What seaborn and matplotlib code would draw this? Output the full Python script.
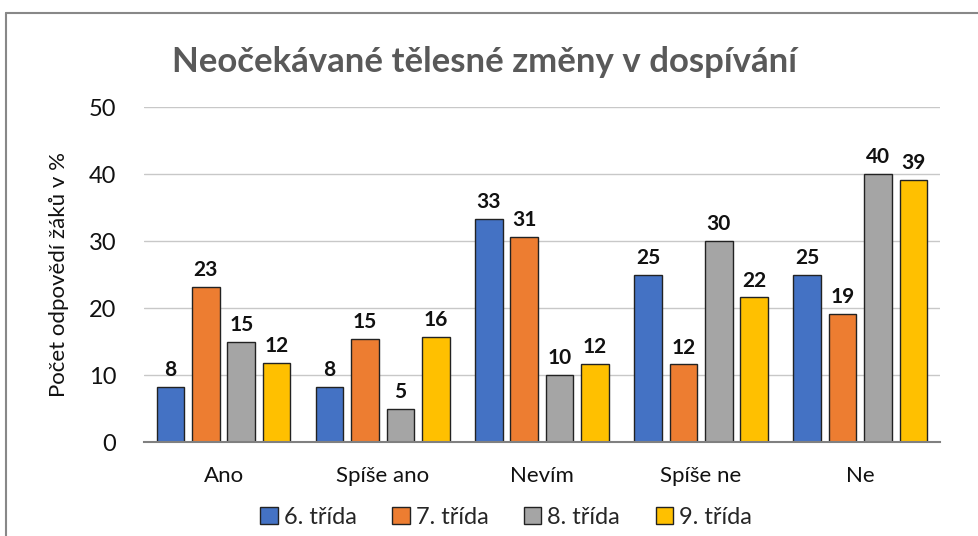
import pandas as pd
import numpy as np
import matplotlib.pyplot as plt
from matplotlib.lines import Line2D
import seaborn as sns

# Data (percent of answers)
categories = ['Ano', 'Spíše ano', 'Nevím', 'Spíše ne', 'Ne']
grades = ['6. třída', '7. třída', '8. třída', '9. třída']
grade6 = [8.3, 8.3, 33.3, 25.0, 25.0]
grade7 = [23.1, 15.4, 30.7, 11.6, 19.2]
grade8 = [15.0, 5.0, 10.0, 30.0, 40.0]
grade9 = [11.8, 15.7, 11.7, 21.6, 39.2]
colors = ['#4472C4', '#ED7D31', '#A5A5A5', '#FFC000']

df = pd.DataFrame({
    'Odpověď': categories * 4,
    'Třída': np.repeat(grades, len(categories)),
    'Hodnota': grade6 + grade7 + grade8 + grade9,
})

sns.set_style('white')
plt.rcParams['font.family'] = ['Lato', 'DejaVu Sans']

fig = plt.figure(figsize=(9.79, 5.36), dpi=100)
ax = fig.add_axes([0.147, 0.175, 0.813, 0.625])

sns.barplot(data=df, x='Odpověď', y='Hodnota', hue='Třída', palette=colors,
            width=0.89, gap=0.22, edgecolor='#222222', linewidth=1.0,
            saturation=1, ax=ax, errorbar=None)

for c in ax.containers:
    ax.bar_label(c, fmt='%.0f', padding=5, fontsize=15, fontweight='bold', color='#111111')

ax.set_ylim(0, 50)
ax.set_yticks(range(0, 51, 10))
ax.set_xlim(-0.5, 4.5)
ax.yaxis.grid(True, color='#c8c8c8', linewidth=1)
ax.set_axisbelow(True)
for s in ['top', 'right', 'left']:
    ax.spines[s].set_visible(False)
ax.spines['bottom'].set_color('#808080')
ax.spines['bottom'].set_linewidth(1.5)

ax.set_xticks(np.arange(-0.5, 5, 1), minor=True)
ax.tick_params(axis='x', which='minor', length=9, width=1.5, color='#808080', direction='inout')
ax.tick_params(axis='x', which='major', length=0, pad=17, labelsize=16, labelcolor='#111111')
ax.tick_params(axis='y', length=0, pad=20, labelsize=17, labelcolor='#111111')

ax.set_xlabel('')
ax.set_ylabel('Počet odpovědí žáků v %', fontsize=16, color='#111111', labelpad=14)

fig.text(0.495, 0.885, 'Neočekávané tělesné změny v dospívání', ha='center', va='center',
         fontsize=25, fontweight='bold', color='#595959')

ax.legend(loc='center', bbox_to_anchor=(0.455, -0.225), ncol=4, frameon=False,
          fontsize=17, handlelength=0.75, handleheight=0.75, handletextpad=0.25,
          columnspacing=1.5)
for h in ax.get_legend().legend_handles:
    h.set_edgecolor('#222222')

# outer chart frame (only top and left edges visible)
fig.add_artist(Line2D([6 / 979, 1], [1 - 12.5 / 536] * 2, color='#888888', linewidth=1.5))
fig.add_artist(Line2D([6 / 979] * 2, [0, 1 - 12.5 / 536], color='#888888', linewidth=1.5))

fig.savefig('out.png', dpi=100)
